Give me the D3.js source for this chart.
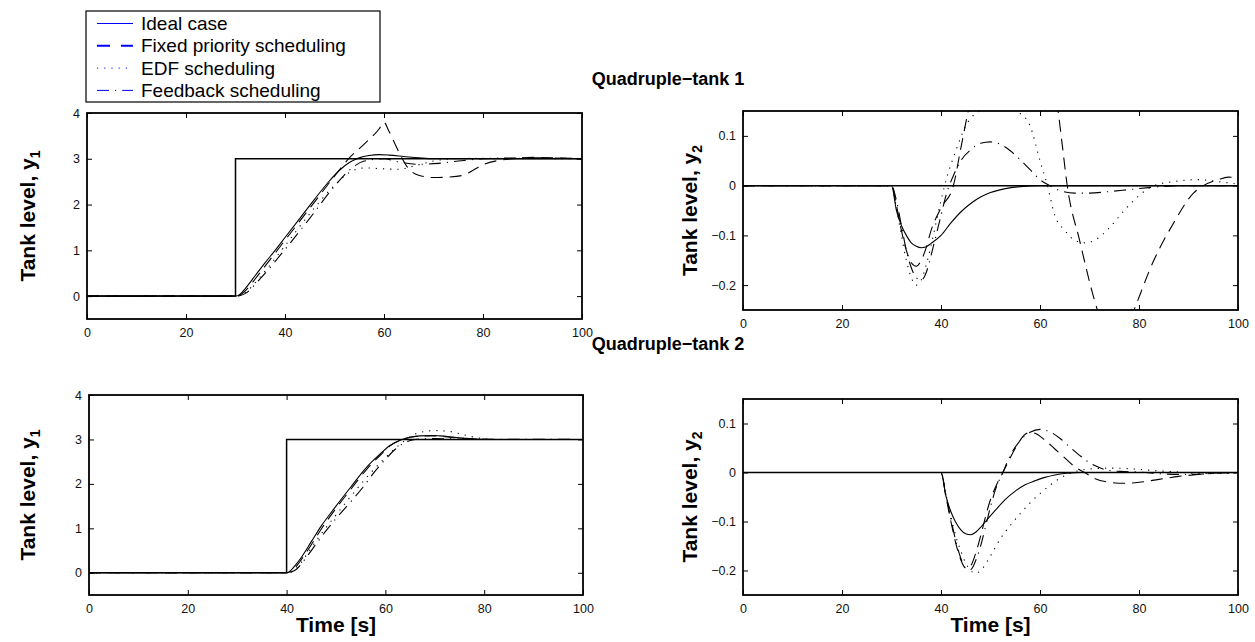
<!DOCTYPE html>
<html>
<head>
<meta charset="utf-8">
<script src="https://cdn.jsdelivr.net/npm/d3@7"></script>
<style>
    body { margin: 0; background: #fff; }
    text { font-family: "Liberation Sans", Arial, Helvetica, sans-serif; }
</style>
</head>
<body>
<div id="chart"></div>
<script>
// legend + tick labels
const legendLabels = ["Ideal case", "Fixed priority scheduling", "EDF scheduling", "Feedback scheduling"];
const panelTitles = ["Quadruple\u2212tank 1", "Quadruple\u2212tank 2"];
const xTicks = [0, 20, 40, 60, 80, 100];
const y1Ticks = [0, 1, 2, 3, 4];
const y2Ticks = [-0.2, -0.1, 0, 0.1];

// reference signals
const t1y1Ref = [[0, 0], [30, 0], [30, 3], [100, 3]];
const t2y1Ref = [[0, 0], [40, 0], [40, 3], [100, 3]];
const y2Ref = [[0, 0], [100, 0]];

// quadruple-tank 1, y1
const t1y1Ideal = [[0, 0], [30, 0], [31, 0.05], [32, 0.17], [34, 0.45], [36, 0.73], [38, 1.0], [40, 1.28], [43, 1.7], [46, 2.12], [49, 2.52], [51, 2.75], [53, 2.92], [55, 3.02], [57, 3.07], [59, 3.09], [61, 3.08], [64, 3.05], [67, 3.02], [70, 3.0], [100, 3.0]];
const t1y1Fixed = [[0, 0], [30, 0], [31, 0.03], [32, 0.12], [35, 0.52], [40, 1.22], [45, 1.92], [50, 2.62], [53, 3.02], [56, 3.32], [59, 3.65], [60, 3.8], [61, 3.6], [63, 3.15], [65, 2.78], [67, 2.64], [70, 2.59], [73, 2.6], [76, 2.64], [78, 2.75], [80, 2.87], [83, 2.96], [86, 3.0], [90, 3.03], [95, 3.02], [100, 3.0]];
const t1y1Edf = [[0, 0], [30, 0], [31, 0.02], [32, 0.08], [35, 0.42], [40, 1.1], [45, 1.8], [50, 2.42], [53, 2.7], [56, 2.8], [60, 2.78], [63, 2.77], [66, 2.84], [70, 2.95], [74, 3.0], [80, 3.01], [100, 3.0]];
const t1y1Feedback = [[0, 0], [30, 0], [31, 0.015], [32, 0.06], [35, 0.38], [40, 1.02], [45, 1.7], [50, 2.4], [53, 2.75], [56, 2.95], [60, 3.0], [63, 2.93], [67, 2.88], [71, 2.9], [75, 2.95], [80, 3.0], [90, 3.02], [100, 3.0]];

// quadruple-tank 1, y2
const t1y2Ideal = [[0, 0], [30, 0], [31, -0.05], [32, -0.08], [33, -0.1], [34, -0.115], [35, -0.122], [36, -0.125], [37, -0.123], [38, -0.116], [40, -0.1], [42, -0.075], [44, -0.053], [46, -0.036], [48, -0.023], [50, -0.014], [53, -0.006], [56, -0.002], [60, 0], [100, 0]];
const t1y2Fixed = [[0, 0], [30, 0], [31, -0.04], [32, -0.09], [33, -0.13], [34, -0.155], [35, -0.162], [36, -0.15], [37, -0.125], [38, -0.09], [40, -0.045], [42.5, 0], [44, 0.075], [45.5, 0.15], [48, 0.25], [52, 0.35], [56, 0.38], [60, 0.33], [63, 0.2], [64.4, 0.09], [65.5, 0], [68, -0.11], [71, -0.23], [73, -0.29], [75, -0.32], [77, -0.3], [79, -0.25], [83, -0.15], [87, -0.075], [91, -0.015], [93, 0], [96, 0.012], [98, 0.017], [100, 0.016]];
const t1y2Edf = [[0, 0], [30, 0], [31, -0.045], [32, -0.1], [33, -0.15], [34, -0.185], [35, -0.2], [36, -0.19], [37, -0.16], [38, -0.12], [39, -0.075], [40, -0.03], [41, 0.01], [43, 0.07], [45, 0.12], [47, 0.145], [50, 0.155], [53, 0.155], [56, 0.145], [58, 0.12], [60, 0.05], [61.5, 0], [63, -0.06], [65, -0.09], [67, -0.11], [69, -0.115], [71, -0.11], [74, -0.085], [77, -0.05], [80, -0.02], [83, 0], [87, 0.008], [92, 0.012], [96, 0.008], [100, 0.003]];
const t1y2Feedback = [[0, 0], [30, 0], [31, -0.03], [32, -0.08], [33, -0.13], [34, -0.165], [35, -0.185], [36, -0.19], [37, -0.175], [38, -0.14], [39, -0.1], [40, -0.06], [41, -0.02], [42.5, 0.02], [44, 0.05], [46, 0.072], [48, 0.085], [50, 0.088], [52, 0.083], [54, 0.07], [56, 0.052], [58, 0.032], [60, 0.012], [62, 0], [64, -0.01], [67, -0.015], [70, -0.015], [74, -0.012], [78, -0.008], [82, -0.004], [86, -0.001], [90, 0], [100, 0]];

// quadruple-tank 2, y1
const t2y1Ideal = [[0, 0], [40, 0], [41, 0.07], [42, 0.2], [43, 0.35], [45, 0.7], [47, 1.05], [50, 1.5], [53, 1.93], [56, 2.35], [59, 2.68], [61, 2.87], [63, 2.98], [65, 3.05], [67, 3.08], [69, 3.09], [71, 3.08], [74, 3.05], [77, 3.02], [80, 3.0], [100, 3.0]];
const t2y1Fixed = [[0, 0], [40, 0], [41, 0.04], [42, 0.15], [43, 0.3], [45, 0.63], [47, 0.98], [50, 1.45], [53, 1.88], [56, 2.3], [59, 2.65], [61, 2.86], [63, 2.98], [65, 3.05], [67, 3.08], [70, 3.08], [73, 3.05], [76, 3.02], [80, 3.0], [100, 3.0]];
const t2y1Edf = [[0, 0], [40, 0], [41, 0.03], [42, 0.1], [44, 0.4], [46, 0.72], [48, 1.02], [50, 1.3], [53, 1.72], [56, 2.12], [59, 2.48], [62, 2.8], [64, 2.98], [66, 3.12], [68, 3.18], [70, 3.2], [73, 3.18], [76, 3.1], [79, 3.03], [82, 3.0], [100, 3.0]];
const t2y1Feedback = [[0, 0], [40, 0], [41, 0.02], [42, 0.08], [44, 0.35], [46, 0.65], [48, 0.95], [50, 1.22], [53, 1.6], [55.5, 1.93], [58, 2.3], [60, 2.55], [62, 2.78], [64, 2.93], [66, 3.0], [70, 3.02], [75, 3.01], [100, 3.0]];

// quadruple-tank 2, y2
const t2y2Ideal = [[0, 0], [40, 0], [41, -0.048], [42, -0.08], [43, -0.102], [44, -0.117], [45, -0.125], [46, -0.127], [47, -0.122], [48, -0.112], [49, -0.1], [51, -0.077], [53, -0.055], [55, -0.038], [57, -0.025], [59, -0.017], [61, -0.01], [63, -0.005], [66, -0.001], [68, 0], [100, 0]];
const t2y2Fixed = [[0, 0], [40, 0], [41, -0.05], [42, -0.1], [43, -0.145], [44, -0.178], [45, -0.195], [46, -0.19], [47, -0.165], [48, -0.13], [49, -0.09], [50, -0.055], [51, -0.03], [52.5, 0], [54, 0.03], [55.5, 0.058], [57, 0.078], [58, 0.082], [59, 0.08], [61, 0.066], [63, 0.048], [65, 0.03], [67, 0.012], [69, 0], [71, -0.012], [74, -0.02], [77, -0.022], [80, -0.02], [84, -0.014], [88, -0.008], [92, -0.004], [96, -0.001], [100, 0]];
const t2y2Edf = [[0, 0], [40, 0], [41, -0.045], [42, -0.09], [43, -0.13], [44, -0.16], [45, -0.185], [46, -0.2], [47, -0.206], [48, -0.2], [50, -0.17], [52, -0.135], [54, -0.108], [56, -0.084], [58, -0.062], [60, -0.043], [62, -0.026], [64, -0.012], [66, -0.002], [68, 0.004], [71, 0.008], [75, 0.009], [79, 0.007], [83, 0.004], [88, 0.001], [92, -0.002], [96, -0.002], [100, 0]];
const t2y2Feedback = [[0, 0], [40, 0], [41, -0.045], [42, -0.095], [43, -0.14], [44, -0.175], [45, -0.195], [46, -0.198], [47, -0.18], [48, -0.15], [49, -0.11], [50, -0.07], [51, -0.035], [52.5, 0], [54, 0.035], [56, 0.065], [58, 0.082], [60, 0.088], [62, 0.083], [64, 0.07], [66, 0.052], [68, 0.035], [70, 0.02], [72, 0.01], [74, 0.004], [77, 0.002], [80, 0.001], [85, -0.003], [90, -0.004], [95, -0.002], [100, 0]];

// line styles, in legend order
const lineDash = ["none", "12,7", "1.2,6", "12,6,1.2,6"];

class TankPanel {

    constructor(svg, id, box, yDomain, yTicks, series, ref, ylabelSub, showTime) {
        this.svg = svg;
        this.id = id;
        this.box = box;
        this.yDomain = yDomain;
        this.yTicks = yTicks;
        this.series = series;
        this.ref = ref;
        this.ylabelSub = ylabelSub;
        this.showTime = showTime;

        this.initVis();
    }

    initVis() {
        let vis = this;
        let b = vis.box;

        vis.width = b.x1 - b.x0;
        vis.height = b.y1 - b.y0;

        vis.x = d3.scaleLinear().domain([0, 100]).range([0, vis.width]);
        vis.y = d3.scaleLinear().domain(vis.yDomain).range([vis.height, 0]);

        vis.g = vis.svg.append("g")
            .attr("transform", "translate(" + b.x0 + "," + b.y0 + ")");

        vis.g.append("clipPath")
            .attr("id", "clip-" + vis.id)
            .append("rect")
            .attr("width", vis.width)
            .attr("height", vis.height);

        let line = d3.line()
            .x(d => vis.x(d[0]))
            .y(d => vis.y(d[1]))
            .curve(d3.curveMonotoneX);

        let plot = vis.g.append("g").attr("clip-path", "url(#clip-" + vis.id + ")");

        // reference signal
        plot.append("path")
            .datum(vis.ref)
            .attr("d", d3.line().x(d => vis.x(d[0])).y(d => vis.y(d[1])))
            .attr("fill", "none")
            .attr("stroke", "#000")
            .attr("stroke-width", 1.5);

        // responses
        plot.selectAll(".resp")
            .data(vis.series)
            .enter().append("path")
            .attr("class", "resp")
            .attr("d", d => line(d))
            .attr("fill", "none")
            .attr("stroke", "#000")
            .attr("stroke-width", 1.1)
            .attr("stroke-dasharray", (d, i) => lineDash[i]);

        // axes, ticks pointing inward on all four sides
        let fmt = d3.format("");
        let styleAxis = function(sel) {
            sel.select(".domain").remove();
            sel.selectAll(".tick line").attr("stroke", "#000").attr("stroke-width", 1);
            sel.selectAll("text")
                .attr("font-family", "Liberation Sans, Arial, sans-serif")
                .attr("font-size", 12.5)
                .attr("fill", "#111");
        };

        vis.g.append("g")
            .attr("transform", "translate(0," + vis.height + ")")
            .call(d3.axisBottom(vis.x).tickValues(xTicks).tickSize(-5).tickPadding(9).tickFormat(fmt))
            .call(styleAxis);
        vis.g.append("g")
            .call(d3.axisTop(vis.x).tickValues(xTicks).tickSize(-5).tickFormat(""))
            .call(styleAxis);
        vis.g.append("g")
            .call(d3.axisLeft(vis.y).tickValues(vis.yTicks).tickSize(-5).tickPadding(7).tickFormat(fmt))
            .call(styleAxis);
        vis.g.append("g")
            .attr("transform", "translate(" + vis.width + ",0)")
            .call(d3.axisRight(vis.y).tickValues(vis.yTicks).tickSize(-5).tickFormat(""))
            .call(styleAxis);

        // frame
        vis.g.append("rect")
            .attr("width", vis.width)
            .attr("height", vis.height)
            .attr("fill", "none")
            .attr("stroke", "#000")
            .attr("stroke-width", 1.8);

        // y label
        let yl = vis.svg.append("text")
            .attr("transform", "translate(" + b.labelX + "," + (b.y0 + vis.height / 2) + ") rotate(-90)")
            .attr("text-anchor", "middle")
            .attr("font-size", 21)
            .attr("font-weight", "bold")
            .attr("fill", "#000");
        yl.append("tspan").text("Tank level, y");
        yl.append("tspan")
            .attr("dy", 5)
            .attr("font-size", 14)
            .text(vis.ylabelSub);

        if (vis.showTime) {
            vis.svg.append("text")
                .attr("x", b.x0 + vis.width / 2)
                .attr("y", b.y1 + 37)
                .attr("text-anchor", "middle")
                .attr("font-size", 21)
                .attr("font-weight", "bold")
                .attr("fill", "#000")
                .text("Time [s]");
        }
    }
}

const svg = d3.select("#chart").append("svg")
    .attr("width", 1255)
    .attr("height", 642);

svg.append("rect").attr("width", 1255).attr("height", 642).attr("fill", "#fff");

new TankPanel(svg, "tl", { x0: 87, x1: 582, y0: 113, y1: 319, labelX: 35 }, [-0.5, 4], y1Ticks,
    [t1y1Ideal, t1y1Fixed, t1y1Edf, t1y1Feedback], t1y1Ref, "1", false);
new TankPanel(svg, "tr", { x0: 743, x1: 1238, y0: 111, y1: 310, labelX: 697 }, [-0.25, 0.15], y2Ticks,
    [t1y2Ideal, t1y2Fixed, t1y2Edf, t1y2Feedback], y2Ref, "2", false);
new TankPanel(svg, "bl", { x0: 89, x1: 583, y0: 395, y1: 595, labelX: 35 }, [-0.5, 4], y1Ticks,
    [t2y1Ideal, t2y1Fixed, t2y1Edf, t2y1Feedback], t2y1Ref, "1", true);
new TankPanel(svg, "br", { x0: 743, x1: 1238, y0: 399, y1: 595, labelX: 697 }, [-0.25, 0.15], y2Ticks,
    [t2y2Ideal, t2y2Fixed, t2y2Edf, t2y2Feedback], y2Ref, "2", true);

// panel titles
svg.selectAll(".title")
    .data(panelTitles)
    .enter().append("text")
    .attr("class", "title")
    .attr("x", 668)
    .attr("y", (d, i) => i === 0 ? 85 : 350)
    .attr("text-anchor", "middle")
    .attr("font-size", 18)
    .attr("font-weight", "bold")
    .attr("fill", "#000")
    .text(d => d);

// legend
let legend = svg.append("g").attr("transform", "translate(86,11)");

legend.append("rect")
    .attr("width", 294)
    .attr("height", 91)
    .attr("fill", "#fff")
    .attr("stroke", "#000")
    .attr("stroke-width", 1.2);

let rows = legend.selectAll(".row")
    .data(legendLabels)
    .enter().append("g")
    .attr("class", "row")
    .attr("transform", (d, i) => "translate(0," + (12.5 + i * 22.3) + ")");

rows.append("line")
    .attr("x1", 11)
    .attr("x2", 47)
    .attr("stroke", "#0000ff")
    .attr("stroke-width", (d, i) => i === 1 ? 2 : 1)
    .attr("stroke-dasharray", (d, i) => i === 1 ? "13,11" : lineDash[i]);

rows.append("text")
    .attr("x", 55)
    .attr("dy", "0.35em")
    .attr("font-size", 19)
    .attr("fill", "#000")
    .text(d => d);
</script>
</body>
</html>
